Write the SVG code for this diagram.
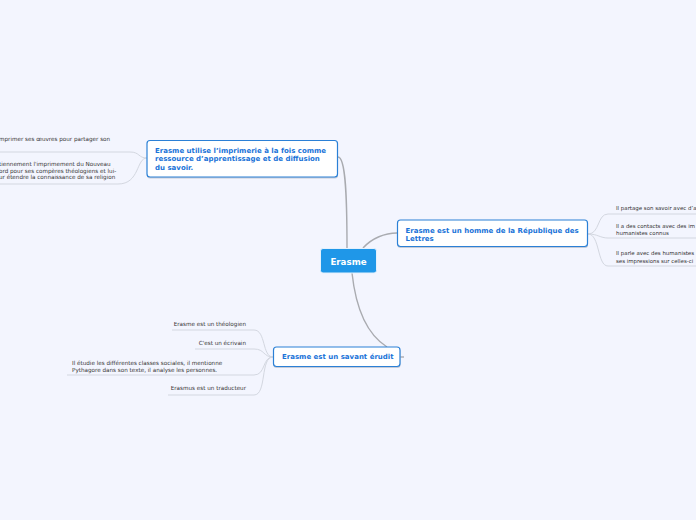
<svg xmlns="http://www.w3.org/2000/svg" width="696" height="520" viewBox="0 0 696 520">
<style>
text{font-family:"DejaVu Sans","Verdana",sans-serif}
.leaf{font-size:5.65px;fill:#333333}
.leafr{font-size:5.45px;fill:#333333}
.nt{font-size:7px;font-weight:bold;fill:#1a73d8}
.ctr{font-size:8.7px;font-weight:bold;fill:#ffffff}
.main{fill:none;stroke:#a9abb0;stroke-width:1.4}
.sub{fill:none;stroke:#d3d7e0;stroke-width:1}
.box{fill:#ffffff;stroke:#2b80d6;stroke-width:1.2}
.shadow{fill:#c5cbd8}
</style>
<rect width="696" height="520" fill="#f3f5fe"/>
<g id="connectors">
<path class="main" d="M338,157 C346,157 347,200 347,248"/>
<path class="main" d="M363,248 C372,238 385,233 397,233"/>
<path class="main" d="M352,273 C356,310 368,335 387,347"/>
<path class="main" d="M400,357 L404,357"/>
<path class="sub" d="M147,158 C138,158 140,152 130,152 L0,152"/>
<path class="sub" d="M147,158 C136,158 140,184 118,184 L0,184"/>
<path class="sub" d="M588,234 C600,234 597,214 608,214 L696,214"/>
<path class="sub" d="M588,234 C598,234 600,238 608,238 L696,238"/>
<path class="sub" d="M588,234 C600,234 597,266 608,266 L696,266"/>
<path class="sub" d="M273,357 C262,357 266,330 254,330 L172,330"/>
<path class="sub" d="M273,357 C263,357 265,349 254,349 L195,349"/>
<path class="sub" d="M273,357 C262,357 266,375 254,375 L67,375"/>
<path class="sub" d="M273,357 C260,357 267,395 254,395 L168,395"/>
</g>
<g id="center">
<rect x="320.5" y="248.5" width="56" height="24.5" rx="2.5" fill="#1f97e8" stroke="#e4f1fd" stroke-width="1"/>
<text class="ctr" x="348.5" y="264.5" text-anchor="middle">Erasme</text>
</g>
<g id="node-imprimerie">
<rect class="shadow" x="147" y="142" width="191" height="36.5" rx="3"/>
<rect class="box" x="147" y="140.5" width="190.5" height="36.5" rx="3"/>
<text class="nt" x="155" y="152.5">Erasme utilise l’imprimerie à la fois comme</text>
<text class="nt" x="155" y="161.3">ressource d’apprentissage et de diffusion</text>
<text class="nt" x="155" y="170">du savoir.</text>
</g>
<g id="leaf-imp-1">
<text class="leaf" x="-1" y="141">mprimer ses œuvres pour partager son</text>
</g>
<g id="leaf-imp-2">
<text class="leaf" x="-1" y="166">tiennement l'imprimement du Nouveau</text>
<text class="leaf" x="-1" y="172.6">ord pour ses compères théologiens et lui-</text>
<text class="leaf" x="-1" y="179.2">ur étendre la connaissance de sa religion</text>
</g>
<g id="node-republique">
<rect class="shadow" x="397.5" y="221.5" width="190.5" height="26.5" rx="3"/>
<rect class="box" x="397.5" y="220" width="190" height="26.5" rx="3"/>
<text class="nt" x="405.5" y="232.5">Erasme est un homme de la République des</text>
<text class="nt" x="405.5" y="241">Lettres</text>
</g>
<g id="leaf-rep-1">
<text class="leafr" x="616" y="209.5">Il partage son savoir avec d’a</text>
</g>
<g id="leaf-rep-2">
<text class="leafr" x="616" y="228">Il a des contacts avec des im</text>
<text class="leafr" x="616" y="235">humanistes connus</text>
</g>
<g id="leaf-rep-3">
<text class="leafr" x="616" y="255">Il parle avec des humanistes</text>
<text class="leafr" x="616" y="262.5">ses impressions sur celles-ci</text>
</g>
<g id="node-erudit">
<rect class="shadow" x="273.5" y="348.5" width="127" height="19.5" rx="3"/>
<rect class="box" x="273.5" y="347" width="126.5" height="19.5" rx="3"/>
<text class="nt" x="282" y="358.7">Erasme est un savant érudit</text>
</g>
<g id="leaf-eru-1">
<text class="leaf" x="246" y="326" text-anchor="end">Erasme est un théologien</text>
</g>
<g id="leaf-eru-2">
<text class="leaf" x="246" y="345" text-anchor="end">C'est un écrivain</text>
</g>
<g id="leaf-eru-3">
<text class="leaf" x="72" y="365">Il étudie les différentes classes sociales, il mentionne</text>
<text class="leaf" x="72" y="372">Pythagore dans son texte, il analyse les personnes.</text>
</g>
<g id="leaf-eru-4">
<text class="leaf" x="246" y="390" text-anchor="end">Erasmus est un traducteur</text>
</g>
</svg>
